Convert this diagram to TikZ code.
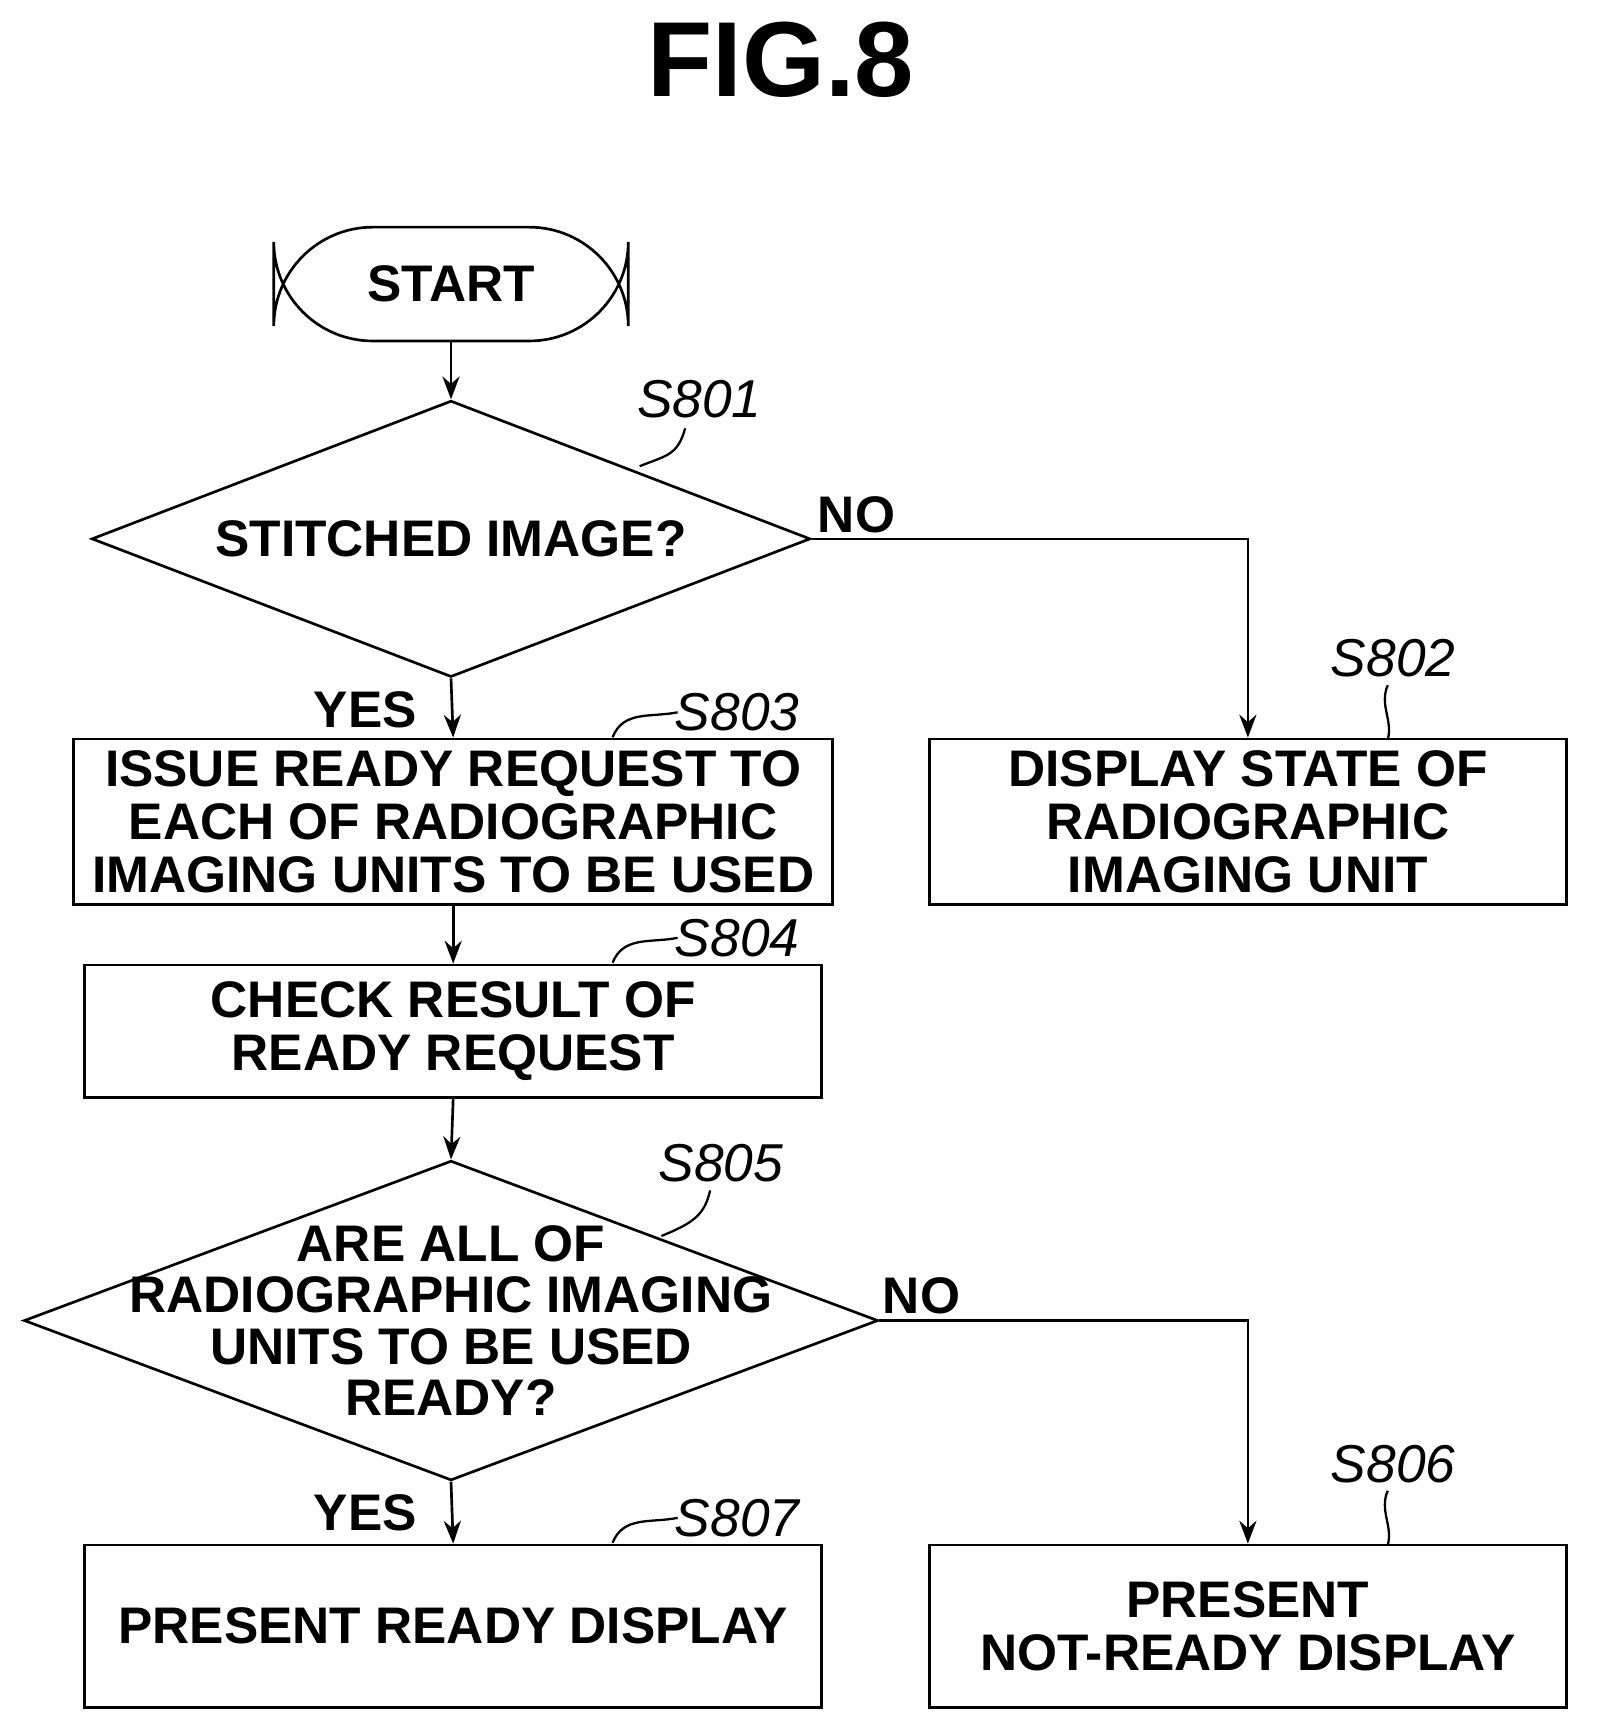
\documentclass[tikz,border=0pt]{standalone}
\usepackage{fontspec}
\setmainfont{Liberation Sans}
\usetikzlibrary{shapes.geometric,arrows.meta}

\tikzset{
  stepbox/.style={draw,line width=1.4pt,inner sep=0pt,align=center,
    font=\fontsize{27}{28}\selectfont\bfseries},
  decision/.style={diamond,draw,line width=1.4pt,inner sep=0pt},
  tag/.style={font=\fontsize{28}{30}\selectfont\itshape},
  answer/.style={font=\fontsize{27}{30}\selectfont\bfseries},
  flow/.style={line width=1.4pt,-{Stealth[length=12pt,width=9pt]}},
  lead/.style={line width=1.2pt}
}

\begin{document}
\begin{tikzpicture}[x=0.02cm,y=-0.02cm]
\useasboundingbox (0,0) rectangle (1475,1580);
\node[font=\fontsize{56}{60}\selectfont\bfseries] (title) at (720,55) {FIG.8};

% nodes
\node[stepbox,rounded corners=52pt,minimum width=6.54cm,minimum height=2.1cm] (start) at (416,262) {START};
\node[decision,minimum width=13.26cm,minimum height=5.1cm,
  label={[answer]center:STITCHED IMAGE?}] (s801) at (416,497) {};
\node[stepbox,minimum width=14cm,minimum height=3.06cm] (s803) at (418,758)
  {ISSUE READY REQUEST TO\\EACH OF RADIOGRAPHIC\\IMAGING UNITS TO BE USED};
\node[stepbox,minimum width=11.76cm,minimum height=3.06cm] (s802) at (1151,758)
  {DISPLAY STATE OF\\RADIOGRAPHIC\\IMAGING UNIT};
\node[stepbox,minimum width=13.6cm,minimum height=2.44cm] (s804) at (418,951)
  {CHECK RESULT OF\\READY REQUEST};
\node[decision,minimum width=15.76cm,minimum height=5.9cm,
  label={[answer,align=center,font=\fontsize{27}{27}\selectfont\bfseries]center:ARE ALL OF\\RADIOGRAPHIC IMAGING\\UNITS TO BE USED\\READY?}] (s805) at (416,1218) {};
\node[stepbox,minimum width=13.6cm,minimum height=3cm] (s807) at (418,1500) {PRESENT READY DISPLAY};
\node[stepbox,minimum width=11.76cm,minimum height=3cm] (s806) at (1151,1500)
  {PRESENT\\NOT-READY DISPLAY};

% connectors
\draw[flow] (start) -- (s801);
\draw[flow] (s801.south) -- (s803.north);
\draw[flow] (s801.east) -| (s802.north);
\draw[flow] (s803) -- (s804);
\draw[flow] (s804.south) -- (s805.north);
\draw[flow] (s805.south) -- (s807.north);
\draw[flow] (s805.east) -| (s806.north);

% answers
\node[answer] (yes1) at (337,655) {YES};
\node[answer] (no1) at (790,475) {NO};
\node[answer] (yes2) at (337,1395) {YES};
\node[answer] (no2) at (850,1195) {NO};

% step tags
\node[tag] (t801) at (645,368) {S801};
\draw[lead] (590,430) .. controls (615,420) and (625,420) .. (632,395);
\node[tag] (t802) at (1285,607) {S802};
\draw[lead] (1280,682) .. controls (1285,665) and (1272,650) .. (1280,632);
\node[tag] (t803) at (680,657) {S803};
\draw[lead] (565,680) .. controls (575,655) and (600,662) .. (625,657);
\node[tag] (t804) at (680,865) {S804};
\draw[lead] (565,888) .. controls (575,863) and (600,870) .. (625,865);
\node[tag] (t805) at (665,1073) {S805};
\draw[lead] (610,1140) .. controls (640,1128) and (650,1120) .. (655,1098);
\node[tag] (t806) at (1285,1350) {S806};
\draw[lead] (1280,1425) .. controls (1285,1408) and (1272,1393) .. (1280,1375);
\node[tag] (t807) at (680,1400) {S807};
\draw[lead] (565,1423) .. controls (575,1398) and (600,1405) .. (625,1400);
\end{tikzpicture}
\end{document}
